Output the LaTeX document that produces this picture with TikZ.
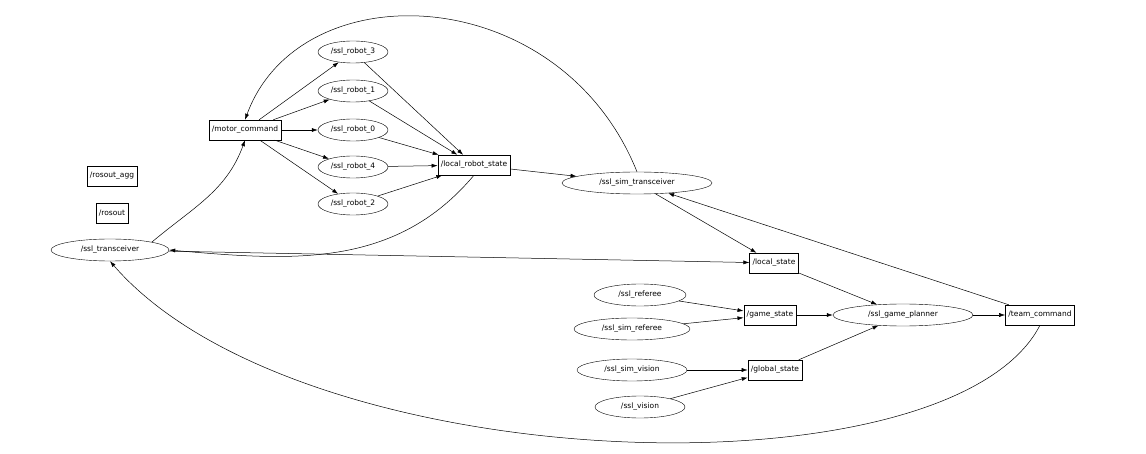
\documentclass[tikz,border=0pt]{standalone}
\usepackage{fontspec}
\setmainfont{DejaVu Sans}
\usepackage{tikz}
\usetikzlibrary{arrows.meta,shapes.geometric}

\tikzset{
  topic/.style={draw, ellipse, inner sep=1pt, minimum height=22pt, font=\fontsize{7.5}{8}\selectfont},
  box/.style={draw, rectangle, inner sep=3pt, minimum height=20pt, font=\fontsize{7.5}{8}\selectfont},
  link/.style={-{Latex[length=6pt,width=4pt]}, line width=0.5pt}
}

\begin{document}
\begin{tikzpicture}[x=1pt,y=-1pt]
        \useasboundingbox[fill=white] (0,0) rectangle (1146,454);

        \node[box] (agg) at (112,176) {/rosout\_agg};
        \node[box] (rosout) at (112,213) {/rosout};
        \node[topic, minimum width=118pt] (trans) at (110,250) {/ssl\_transceiver};
        \node[box] (motor) at (245,130) {/motor\_command};

        \node[topic, minimum width=70pt] (r3) at (353,52) {/ssl\_robot\_3};
        \node[topic, minimum width=70pt] (r1) at (353,91) {/ssl\_robot\_1};
        \node[topic, minimum width=70pt] (r0) at (353,130) {/ssl\_robot\_0};
        \node[topic, minimum width=70pt] (r4) at (353,167) {/ssl\_robot\_4};
        \node[topic, minimum width=70pt] (r2) at (353,204) {/ssl\_robot\_2};

        \node[box] (lrs) at (474,165) {/local\_robot\_state};
        \node[topic, minimum width=150pt] (simtrans) at (637,183) {/ssl\_sim\_transceiver};
        \node[box] (lstate) at (774,263) {/local\_state};

        \node[topic, minimum width=92pt] (ref) at (640,295) {/ssl\_referee};
        \node[topic, minimum width=116pt] (simref) at (632,329) {/ssl\_sim\_referee};
        \node[box] (gstate) at (770,315) {/game\_state};
        \node[topic, minimum width=140pt] (planner) at (903,315) {/ssl\_game\_planner};
        \node[box] (team) at (1040,315) {/team\_command};
        \node[topic, minimum width=110pt] (simvis) at (632,370) {/ssl\_sim\_vision};
        \node[box] (glstate) at (775,370) {/global\_state};
        \node[topic, minimum width=90pt] (vis) at (640,407) {/ssl\_vision};

        % robots
        \draw[link] (trans.north east) to[out=40,in=-110] (motor.south);
        \foreach \r in {r3,r1,r0,r4,r2} {
            \draw[link] (motor) -- (\r);
            \draw[link] (\r) -- (lrs);
        }
        \draw[link] (lrs.south) to[out=-130,in=-5] (trans.east);
        \draw[link] (lrs) -- (simtrans);
        \draw[link] (simtrans.north) .. controls (560,-20) and (300,-30) .. (motor.north);
        \draw[link] (simtrans) -- (lstate);
        \draw[link] (trans) -- (lstate);

        % planner
        \draw[link] (lstate) -- (planner);
        \draw[link] (ref) -- (gstate);
        \draw[link] (simref) -- (gstate);
        \draw[link] (gstate) -- (planner);
        \draw[link] (simvis) -- (glstate);
        \draw[link] (vis) -- (glstate);
        \draw[link] (glstate) -- (planner);
        \draw[link] (planner) -- (team);
        \draw[link] (team) -- (simtrans);
        \draw[link] (team.south) .. controls (950,500) and (300,480) .. (trans.south);
    \end{tikzpicture}
\end{document}
